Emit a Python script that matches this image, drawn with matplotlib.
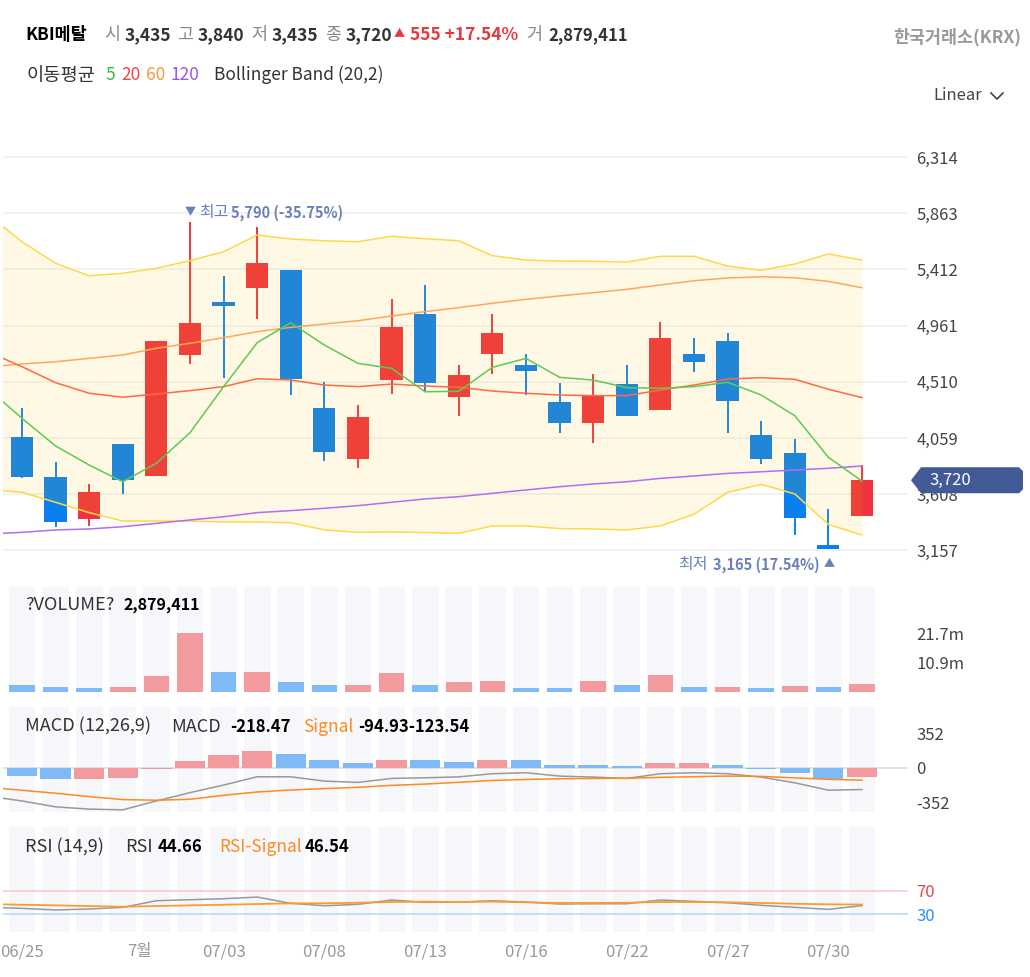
import matplotlib
matplotlib.use('Agg')
import matplotlib.pyplot as plt
from matplotlib import transforms
from matplotlib.patches import Polygon
from matplotlib.lines import Line2D
import numpy as np

plt.rcParams['font.family'] = ['Noto Sans CJK KR', 'DejaVu Sans']

# ---- 데이터 (일봉 26개, 06/25 ~ 07/31) ----
opens = [4064, 3744, 3406, 4008, 3757, 4723, 5150, 5260, 5405, 4297, 3888, 4524, 5054,
         4390, 4731, 4645, 4345, 4177, 4492, 4284, 4733, 4837, 4081, 3936, 3200, 3435]
highs = [4302, 3864, 3687, 4008, 4837, 5790, 5361, 5755, 5405, 4506, 4324, 5174, 5287,
         4645, 5054, 4731, 4503, 4573, 4645, 4990, 4864, 4904, 4198, 4051, 3487, 3840]
lows = [3738, 3343, 3353, 3610, 3757, 4650, 4538, 5017, 4404, 3874, 3816, 4412, 4431,
        4238, 4575, 4404, 4101, 4021, 4238, 4284, 4591, 4101, 3850, 3281, 3165, 3435]
closes = [3744, 3383, 3623, 3722, 4837, 4979, 5120, 5463, 4530, 3949, 4225, 4950, 4503,
          4564, 4899, 4597, 4177, 4399, 4238, 4861, 4671, 4358, 3888, 3419, 3165, 3720]

volumes = [2500000, 1850000, 1350000, 2000000, 5800000, 21900000, 7400000, 7500000,
           3700000, 2500000, 2500000, 6900000, 2500000, 3600000, 4200000, 1350000,
           1350000, 4200000, 2500000, 6300000, 1850000, 1850000, 1350000, 2300000,
           1800000, 2879411]
vol_up = [0, 0, 0, 1, 1, 1, 0, 1, 0, 0, 1, 1, 0, 1, 1, 0, 0, 1, 0, 1, 0, 1, 0, 1, 0, 1]

# 보조지표 (첫 값은 화면 왼쪽 밖의 직전 봉)
ma5 = [4452, 4217, 3995, 3842, 3708, 3856, 4101, 4471, 4824, 4984, 4805, 4658, 4618, 4430,
       4434, 4626, 4698, 4546, 4524, 4463, 4458, 4471, 4506, 4404, 4238, 3904, 3714]
ma20 = [4750, 4631, 4503, 4418, 4386, 4412, 4439, 4471, 4535, 4524, 4484, 4471, 4492, 4476,
        4466, 4436, 4418, 4404, 4399, 4399, 4444, 4484, 4532, 4543, 4530, 4450, 4383]
ma60 = [4628, 4653, 4671, 4698, 4725, 4779, 4819, 4864, 4912, 4947, 4974, 5000, 5038, 5073,
        5105, 5140, 5172, 5199, 5225, 5252, 5287, 5321, 5343, 5353, 5345, 5316, 5265]
ma120 = [3288, 3302, 3321, 3329, 3347, 3374, 3401, 3427, 3460, 3476, 3495, 3516, 3543, 3570,
         3588, 3615, 3642, 3668, 3690, 3708, 3735, 3754, 3775, 3788, 3802, 3816, 3834]
bb_upper = [5850, 5634, 5461, 5361, 5381, 5421, 5482, 5554, 5688, 5656, 5642, 5634, 5678, 5658,
            5642, 5522, 5487, 5479, 5477, 5471, 5517, 5517, 5439, 5405, 5455, 5536, 5487]
bb_lower = [3646, 3623, 3543, 3460, 3393, 3393, 3393, 3385, 3385, 3379, 3321, 3302, 3305, 3300,
            3294, 3353, 3353, 3332, 3329, 3321, 3353, 3447, 3623, 3687, 3610, 3366, 3281]

macd = [-286, -334, -394, -417, -424, -334, -250, -173, -89, -89, -133, -146, -106, -99,
        -90, -58, -48, -82, -92, -106, -58, -48, -58, -92, -150, -225, -218.47]
macd_signal = [-196, -226, -256, -290, -320, -327, -317, -277, -243, -223, -209, -196, -176, -163,
               -145, -126, -116, -109, -106, -104, -95, -88, -82, -85, -100, -115, -123.54]
macd_hist = [-82, -116, -116, -99, -8, 68, 129, 176, 146, 86, 55, 86, 86, 62, 80, 80, 32, 32,
             18, 48, 48, 32, -14, -54, -112, -94.93]
hist_up = [0, 0, 1, 1, 1, 1, 1, 1, 0, 0, 0, 1, 0, 0, 1, 0, 0, 0, 0, 1, 1, 0, 0, 0, 0, 1]

rsi = [41.9, 40.1, 37.3, 39.0, 41.8, 53.0, 54.7, 56.4, 59.2, 48.6, 44.5, 46.9, 54.2, 50.3,
       50.8, 53.0, 50.8, 47.4, 47.9, 47.9, 54.2, 52.0, 49.6, 45.2, 41.8, 38.4, 44.66]
rsi_signal = [47.4, 46.2, 45.2, 44.0, 42.8, 44.0, 45.2, 46.2, 47.4, 48.6, 48.6, 49.6, 50.8, 51.5,
              50.8, 51.5, 50.3, 49.2, 49.2, 49.6, 50.8, 50.8, 50.3, 49.2, 47.9, 46.9, 46.54]

tick_pos = [0, 3.5, 6, 9, 12, 15, 18, 21, 24]
tick_labels = ['06/25', '7월', '07/03', '07/08', '07/13', '07/16', '07/22', '07/27', '07/30']
price_ticks = [3157, 3608, 4059, 4510, 4961, 5412, 5863, 6314]

# ---- 색상 ----
RED, BLUE = '#ef3340', '#0a80f0'
VRED, VBLUE = '#f29a9e', '#80baf6'
SLATE = '#6a80b8'
TXT = '#333333'

W, H = 1030, 977
XL = (-0.565, 26.37)


def box(top, bottom, left=3, right=908):
    return [left / W, 1 - bottom / H, (right - left) / W, (bottom - top) / H]


def ftext(x, y, s, **kw):
    kw.setdefault('va', 'center')
    return fig.text(x / W, 1 - y / H, s, **kw)


def setup(ax):
    ax.set_xlim(*XL)
    for sp in ax.spines.values():
        sp.set_visible(False)
    ax.yaxis.tick_right()
    ax.tick_params(axis='x', bottom=False, labelbottom=False)
    ax.tick_params(axis='y', length=0, pad=6, labelsize=12, labelcolor='#444444')
    ax.set_facecolor('none')


fig = plt.figure(figsize=(W / 100, H / 100), dpi=100)

xi = np.arange(len(opens))
xl = np.arange(-1, len(opens))
o, hi, lo, c = map(np.array, (opens, highs, lows, closes))
up = c > o

# ---- 가격 차트 ----
ax = fig.add_axes(box(130, 578))
setup(ax)
ax.set_ylim(6314 - (578 - 157) * 8.025, 6314 + (157 - 130) * 8.025)
ax.set_yticks(price_ticks)
ax.set_yticklabels([f'{v:,}' for v in price_ticks])
ax.grid(axis='y', color='#eef0f4', lw=1.2, zorder=0)
ax.set_axisbelow(True)

ccol = np.where(up, RED, BLUE)
ax.vlines(xi, lo, hi, colors=ccol, lw=1.4, zorder=2)
body_h = np.maximum(np.abs(c - o), 30)
ax.bar(xi, body_h, bottom=np.minimum(o, c), width=0.66, color=ccol, zorder=2)

ax.fill_between(xl, bb_lower, bb_upper, color='#ffc400', alpha=0.1, lw=0, zorder=3)
ax.plot(xl, bb_upper, color='#ffd84a', lw=1.1, zorder=4)
ax.plot(xl, bb_lower, color='#ffd84a', lw=1.1, zorder=4)
ax.plot(xl, ma60, color='#ffa65a', lw=1.1, zorder=4)
ax.plot(xl, ma120, color='#b36cf2', lw=1.1, zorder=4)
ax.plot(xl, ma20, color='#ff6a40', lw=1.1, zorder=4)
ax.plot(xl, ma5, color='#5ccb52', lw=1.1, zorder=4)

# 최고 / 최저
imax = int(np.argmax(hi))
imin = int(np.argmin(lo))
pct_hi = (c[-1] - hi[imax]) / hi[imax] * 100
pct_lo = (c[-1] - lo[imin]) / lo[imin] * 100
ax.annotate('▼', (imax, hi[imax]), xytext=(0, 10), textcoords='offset pixels',
            ha='center', va='center', fontsize=8, color=SLATE, zorder=6)
ax.annotate('최고', (imax, hi[imax]), xytext=(9, 10), textcoords='offset pixels',
            ha='left', va='center', fontsize=11.5, color=SLATE, zorder=6)
ax.annotate(f'{hi[imax]:,} ({pct_hi:.2f}%)', (imax, hi[imax]), xytext=(41, 10),
            textcoords='offset pixels', ha='left', va='center', fontsize=10.5,
            fontweight='bold', color=SLATE, zorder=6)
ax.annotate('▲', (imin, lo[imin]), xytext=(1, -15), textcoords='offset pixels',
            ha='center', va='center', fontsize=8, color=SLATE, zorder=6)
low_txt = ax.annotate(f'{lo[imin]:,} ({pct_lo:.2f}%)', (imin, lo[imin]), xytext=(-9, -15),
                      textcoords='offset pixels', ha='right', va='center', fontsize=10.5,
                      fontweight='bold', color=SLATE, zorder=6)
fig.canvas.draw()
lw_px = low_txt.get_window_extent(fig.canvas.get_renderer()).width
ax.annotate('최저', (imin, lo[imin]), xytext=(-9 - lw_px - 5, -15), textcoords='offset pixels',
            ha='right', va='center', fontsize=11.5, color=SLATE, zorder=6)

# 현재가 표시
tr = transforms.blended_transform_factory(fig.transFigure, ax.transData)
hh = 13 * 8.025
last = c[-1]
pts = [(911 / W, last), (921 / W, last + hh), (1019 / W, last + hh), (1023 / W, last + hh * 0.7),
       (1023 / W, last - hh * 0.7), (1019 / W, last - hh), (921 / W, last - hh)]
ax.add_patch(Polygon(pts, closed=True, transform=tr, facecolor='#425b97', edgecolor='none',
                     clip_on=False, zorder=7))
ax.text(929 / W, last, f'{last:,}', transform=tr, color='white', fontsize=12,
        va='center', ha='left', zorder=8)

# ---- 거래량 ----
axv = fig.add_axes(box(587, 692))
setup(axv)
axv.set_ylim(0, (692 - 587) * 0.3686e6)
axv.bar(xi, axv.get_ylim()[1], width=0.8, color='#f5f7fb', zorder=0)
axv.bar(xi, volumes, width=0.76, color=np.where(np.array(vol_up) == 1, VRED, VBLUE), zorder=2)
axv.set_yticks([10.9e6, 21.7e6])
axv.set_yticklabels(['10.9m', '21.7m'])

# ---- MACD ----
axm = fig.add_axes(box(707, 812))
setup(axm)
axm.set_ylim(-(812 - 768) * 10.14, (768 - 707) * 10.14)
ylo, yhi = axm.get_ylim()
axm.bar(xi, yhi - ylo, bottom=ylo, width=0.8, color='#f5f7fb', zorder=0)
axm.axhline(0, color='#dcdcdc', lw=1.2, zorder=1)
axm.bar(xi, macd_hist, width=0.9, color=np.where(np.array(hist_up) == 1, VRED, VBLUE), zorder=2)
axm.plot(xl, macd, color='#999999', lw=1.1, zorder=3)
axm.plot(xl, macd_signal, color='#ff8a1e', lw=1.1, zorder=3)
axm.set_yticks([-352, 0, 352])
axm.set_yticklabels(['-352', '0', '352'])

# ---- RSI ----
axr = fig.add_axes(box(827, 932))
setup(axr)
axr.set_ylim(0, 178)
axr.bar(xi, 178, width=0.8, color='#f5f7fb', zorder=0)
axr.axhline(70, color='#f9cccc', lw=1.2, zorder=1)
axr.axhline(30, color='#bcd9f8', lw=1.2, zorder=1)
axr.plot(xl, rsi, color='#999999', lw=1.1, zorder=3)
axr.plot(xl, rsi_signal, color='#ff9a2e', lw=1.3, zorder=3)
axr.set_yticks([30, 70])
axr.set_yticklabels(['30', '70'])
axr.get_yticklabels()[0].set_color('#2f8ef0')
axr.get_yticklabels()[1].set_color('#e8464a')
axr.set_xticks(tick_pos)
axr.set_xticklabels(tick_labels)
axr.tick_params(axis='x', bottom=False, labelbottom=True, length=0, pad=8,
                labelsize=12, labelcolor='#999999')

# ---- 상단 헤더 ----
ftext(25, 35, 'KBI메탈', fontsize=12.5, fontweight='bold', color='black')
hdr = [(104, '시', opens[-1]), (177, '고', highs[-1]), (251, '저', lows[-1]), (325, '종', closes[-1])]
for x0, lab, val in hdr:
    ftext(x0, 35, lab, fontsize=12.5, color='#888888')
    ftext(x0 + 21, 35, f'{val:,}', fontsize=12.5, fontweight='bold', color=TXT)
chg = closes[-1] - closes[-2]
ftext(394, 34, '▲', fontsize=8, color='#e8383d')
ftext(410, 35, f'{chg} +{chg / closes[-2] * 100:.2f}%', fontsize=12.5, fontweight='bold',
      color='#e8383d')
ftext(526, 35, '거', fontsize=12.5, color='#888888')
ftext(548, 35, f'{volumes[-1]:,}', fontsize=12, fontweight='bold', color=TXT)
ftext(1021, 37, '한국거래소(KRX)', fontsize=12.5, fontweight='bold', color='#999999', ha='right')

ftext(26, 75, '이동평균', fontsize=13.5, color=TXT)
for x0, lab, col in [(105, '5', '#3cb93c'), (121, '20', '#f0454a'), (146, '60', '#f59a3c'),
                     (171, '120', '#9b55e8')]:
    ftext(x0, 75, lab, fontsize=12.5, color=col)
ftext(214, 75, 'Bollinger Band (20,2)', fontsize=12.5, color=TXT)

ftext(933, 96, 'Linear', fontsize=12, color='#444444')
fig.add_artist(Line2D([991 / W, 997 / W, 1003 / W], [1 - 93 / H, 1 - 99 / H, 1 - 93 / H],
                      color='#444444', lw=1.2))

# 보조지표 라벨
ftext(25, 605, '?VOLUME?', fontsize=13, color=TXT)
ftext(124, 605, f'{volumes[-1]:,}', fontsize=11.5, fontweight='bold', color='black')
ftext(25, 726, 'MACD (12,26,9)', fontsize=13, color=TXT)
ftext(171, 727, 'MACD', fontsize=13, color=TXT)
ftext(230, 727, f'{macd[-1]:.2f}', fontsize=12, fontweight='bold', color='black')
ftext(303, 727, 'Signal', fontsize=12.5, color='#ff8a1e')
ftext(358, 727, f'{macd_hist[-1]:.2f}{macd_signal[-1]:.2f}', fontsize=12, fontweight='bold',
      color='black')
ftext(25, 847, 'RSI (14,9)', fontsize=13, color=TXT)
ftext(125, 847, 'RSI', fontsize=13, color=TXT)
ftext(158, 847, f'{rsi[-1]:.2f}', fontsize=12, fontweight='bold', color='black')
ftext(219, 847, 'RSI-Signal', fontsize=12.5, color='#ff8a1e')
ftext(305, 847, f'{rsi_signal[-1]:.2f}', fontsize=12, fontweight='bold', color='black')

fig.savefig('out.png', dpi=100)
